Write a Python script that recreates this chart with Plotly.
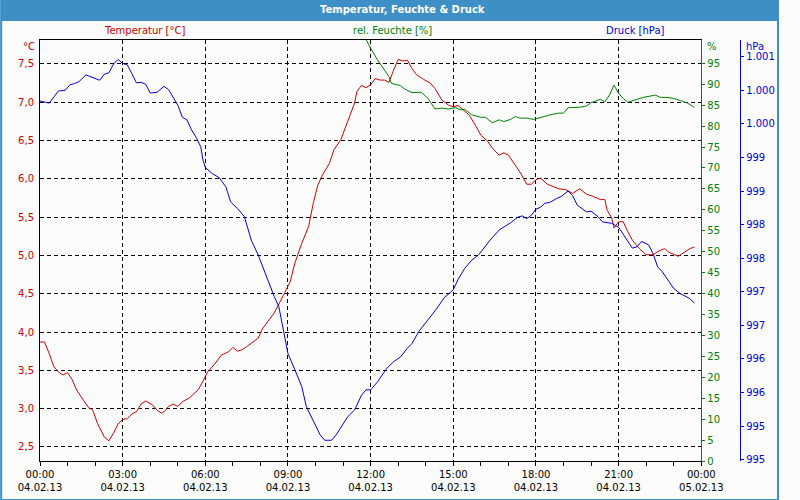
import plotly.graph_objects as go
from datetime import datetime, timedelta

# ---------------- data (minutes after 04.02.13 00:00) ----------------
temp_min = [0, 10, 20, 30, 40, 50, 60, 70, 80, 90,
            95, 105, 115, 125, 140, 150, 160, 170, 180, 190,
            200, 210, 220, 230, 245, 255, 265, 270, 280, 290,
            300, 310, 325, 335, 345, 355, 365, 380, 395, 410,
            420, 430, 440, 450, 465, 475, 485, 510, 530, 545,
            555, 570, 585, 595, 605, 615, 630, 640, 655, 670,
            685, 690, 700, 710, 720, 730, 740, 750, 760, 770,
            780, 790, 800, 810, 820, 835, 850, 860, 875, 890,
            900, 910, 925, 935, 950, 960, 975, 985, 1000, 1010,
            1020, 1035, 1045, 1060, 1070, 1080, 1090, 1105, 1130, 1145,
            1160, 1175, 1190, 1205, 1220, 1230, 1235, 1245, 1250, 1260,
            1270, 1280, 1290, 1305, 1320, 1335, 1345, 1360, 1370, 1390,
            1405, 1415, 1425]
temp_val = [3.87, 3.87, 3.72, 3.55, 3.48, 3.44, 3.47, 3.38, 3.24, 3.15,
            3.11, 3.02, 2.98, 2.81, 2.63, 2.58, 2.68, 2.80, 2.86, 2.87,
            2.93, 2.96, 3.06, 3.10, 3.05, 2.98, 2.94, 2.96, 3.03, 3.06,
            3.03, 3.09, 3.14, 3.19, 3.25, 3.36, 3.48, 3.58, 3.70, 3.74,
            3.80, 3.75, 3.77, 3.81, 3.87, 3.92, 4.05, 4.25, 4.48, 4.66,
            4.90, 5.16, 5.38, 5.68, 5.92, 6.05, 6.20, 6.38, 6.51, 6.75,
            6.99, 7.14, 7.22, 7.19, 7.23, 7.31, 7.29, 7.29, 7.26, 7.42,
            7.56, 7.54, 7.55, 7.44, 7.36, 7.30, 7.25, 7.18, 7.03, 6.96,
            6.94, 6.96, 6.88, 6.83, 6.68, 6.57, 6.49, 6.40, 6.31, 6.34,
            6.31, 6.18, 6.09, 5.93, 5.93, 5.99, 6.01, 5.93, 5.87, 5.86,
            5.81, 5.87, 5.80, 5.77, 5.73, 5.73, 5.59, 5.49, 5.36, 5.44,
            5.44, 5.31, 5.20, 5.09, 5.01, 5.01, 5.05, 5.09, 5.04, 4.99,
            5.05, 5.09, 5.11]

press_min = [0, 10, 20, 30, 40, 55, 65, 75, 85, 100,
             115, 130, 140, 150, 160, 170, 180, 190, 200, 210,
             220, 230, 240, 255, 260, 270, 280, 290, 300, 310,
             320, 330, 340, 350, 355, 360, 375, 390, 405, 415,
             430, 445, 450, 460, 475, 485, 500, 510, 520, 530,
             540, 555, 570, 580, 595, 610, 620, 635, 645, 660,
             670, 685, 700, 710, 720, 735, 755, 770, 785, 800,
             810, 825, 845, 865, 880, 900, 910, 925, 940, 955,
             970, 980, 1000, 1010, 1025, 1040, 1050, 1060, 1070, 1080,
             1090, 1100, 1110, 1125, 1135, 1150, 1160, 1170, 1180, 1190,
             1200, 1215, 1225, 1245, 1260, 1275, 1290, 1300, 1310, 1325,
             1335, 1345, 1355, 1370, 1380, 1395, 1405, 1415, 1425]
press_val = [1000.34, 1000.32, 1000.31, 1000.40, 1000.49, 1000.50, 1000.58, 1000.60, 1000.63, 1000.73,
             1000.69, 1000.65, 1000.74, 1000.76, 1000.89, 1000.96, 1000.90, 1000.88, 1000.75, 1000.61,
             1000.62, 1000.59, 1000.46, 1000.47, 1000.50, 1000.56, 1000.51, 1000.40, 1000.28, 1000.10,
             1000.06, 999.91, 999.80, 999.66, 999.46, 999.35, 999.26, 999.20, 999.06, 998.84,
             998.74, 998.62, 998.49, 998.27, 998.05, 997.87, 997.60, 997.43, 997.28, 996.93,
             996.58, 996.34, 996.09, 995.79, 995.57, 995.37, 995.29, 995.29, 995.37, 995.54,
             995.64, 995.74, 995.96, 996.04, 996.04, 996.16, 996.36, 996.46, 996.53, 996.66,
             996.73, 996.91, 997.08, 997.26, 997.41, 997.53, 997.68, 997.85, 997.97, 998.05,
             998.18, 998.27, 998.42, 998.46, 998.53, 998.61, 998.63, 998.59, 998.64, 998.73,
             998.76, 998.82, 998.83, 998.89, 998.92, 999.00, 998.93, 998.79, 998.74, 998.69,
             998.70, 998.62, 998.54, 998.52, 998.46, 998.30, 998.15, 998.17, 998.25, 998.20,
             998.07, 997.87, 997.80, 997.65, 997.55, 997.47, 997.44, 997.40, 997.33]

hum_min = [700, 710, 720, 735, 745, 760, 765, 785, 795, 810,
           830, 845, 860, 875, 890, 905, 915, 925, 940, 960,
           970, 985, 1000, 1010, 1025, 1035, 1045, 1060, 1075, 1085,
           1100, 1115, 1130, 1140, 1150, 1165, 1175, 1190, 1200, 1220,
           1230, 1240, 1250, 1260, 1270, 1280, 1295, 1315, 1340, 1350,
           1370, 1380, 1395, 1410, 1425]
hum_val = [102.8, 100.6, 98.6, 95.8, 94.2, 91.8, 90.2, 89.7, 88.8, 88.0,
           88.1, 86.6, 84.1, 84.3, 84.1, 84.4, 83.9, 84.0, 82.7, 82.1,
           82.1, 80.8, 81.5, 81.1, 81.6, 82.3, 81.9, 81.9, 81.6, 81.9,
           82.5, 82.8, 83.1, 83.1, 84.4, 84.5, 84.5, 84.8, 85.6, 86.4,
           85.8, 87.4, 89.8, 87.8, 86.6, 85.7, 86.2, 86.9, 87.4, 86.9,
           86.8, 86.6, 86.1, 85.5, 84.5]

hum_tickvals = [0, 5, 10, 15, 20, 25, 30, 35, 40, 45,
                50, 55, 60, 65, 70, 75, 80, 85, 90, 95]

press_tickvals = [995.0, 995.5, 996.0, 996.5, 997.0, 997.5, 998.0,
                  998.5, 999.0, 999.5, 1000.0, 1000.5, 1001.0]
press_ticktext = ["995", "995", "996", "996", "997", "997", "998",
                  "998", "999", "999", "1.000", "1.000", "1.001"]

t0 = datetime(2013, 2, 4)


def to_time(mins):
    return [t0 + timedelta(minutes=m) for m in mins]


RED = "#cc0000"
GREEN = "#008000"
BLUE = "#0000dd"
FRAME = "#3d8fc6"
FONT = "DejaVu Sans"

fig = go.Figure()
fig.add_trace(go.Scatter(x=to_time(temp_min), y=temp_val, mode="lines",
                         line=dict(color="#d40000", width=1), yaxis="y"))
fig.add_trace(go.Scatter(x=to_time(hum_min), y=hum_val, mode="lines",
                         line=dict(color="#008000", width=1), yaxis="y2"))
fig.add_trace(go.Scatter(x=to_time(press_min), y=press_val, mode="lines",
                         line=dict(color="#0000e0", width=1), yaxis="y3"))

# layout geometry: plot area x 40..721, y 40..461 ; paper x 40..800
W_PAPER = 760.0
H_PLOT = 421.0


def px(X):
    return (X - 40) / W_PAPER


def py(Y):
    return (461 - Y) / H_PLOT


fig.update_layout(
    width=800, height=500,
    margin=dict(l=40, r=0, t=40, b=39, pad=0),
    paper_bgcolor="#fbfcfb",
    plot_bgcolor="#fbfcfb",
    separators=",.",
    showlegend=False,
    hovermode=False,
    font=dict(family=FONT, size=10, color="black"),
    xaxis=dict(
        domain=[0, 681 / W_PAPER],
        range=[t0, t0 + timedelta(hours=24)],
        tick0=t0, dtick=3 * 3600000,
        tickformat="%H:%M<br>%d.%m.%y",
        showgrid=True, gridcolor="black", gridwidth=1, griddash="4px,3px",
        showline=True, linecolor="black", linewidth=1, mirror=True,
        ticks="outside", ticklen=4, tickcolor="black",
        minor=dict(dtick=3600000, ticks="outside", ticklen=4, tickcolor="black", showgrid=False),
        tickfont=dict(family=FONT, size=10, color="black"),
        zeroline=False,
    ),
    yaxis=dict(
        range=[2.317, 7.813], tick0=2.5, dtick=0.5, tickformat=".1f",
        showgrid=True, gridcolor="black", gridwidth=1, griddash="4px,3px",
        showline=True, linecolor="black", linewidth=1,
        ticks="outside", ticklen=3, tickcolor="rgba(0,0,0,0)",
        tickfont=dict(family=FONT, size=10, color=RED),
        zeroline=False,
    ),
    yaxis2=dict(
        overlaying="y", side="right", anchor="x",
        range=[0, 100.57], tickmode="array", tickvals=hum_tickvals,
        showgrid=False, zeroline=False,
        showline=True, linecolor=GREEN, linewidth=1,
        ticks="outside", ticklen=3, tickcolor=GREEN,
        tickfont=dict(family=FONT, size=10, color=GREEN),
    ),
    yaxis3=dict(
        overlaying="y", side="right", anchor="free", position=px(761),
        range=[994.981, 1001.249],
        tickmode="array", tickvals=press_tickvals, ticktext=press_ticktext,
        showgrid=False, zeroline=False,
        showline=True, linecolor=BLUE, linewidth=1,
        ticks="outside", ticklen=3, tickcolor=BLUE,
        tickfont=dict(family=FONT, size=10, color=BLUE),
    ),
)

shapes = [
    dict(type="rect", xref="paper", yref="paper", layer="below",
         x0=px(0), x1=px(800), y0=py(21), y1=py(0),
         fillcolor=FRAME, line=dict(width=0)),
    dict(type="rect", xref="paper", yref="paper", layer="above",
         x0=px(0), x1=px(800), y0=py(500), y1=py(0),
         fillcolor="rgba(0,0,0,0)", line=dict(color=FRAME, width=2)),
]
fig.update_layout(shapes=shapes)

annotations = [
    dict(text="<b>Temperatur, Feuchte &amp; Druck</b>", x=px(413), y=py(10),
         font=dict(family=FONT, size=10, color="white")),
    dict(text="Temperatur [°C]", x=px(148), y=py(31), font=dict(family=FONT, size=10, color=RED)),
    dict(text="rel. Feuchte [%]", x=px(403), y=py(31), font=dict(family=FONT, size=10, color=GREEN)),
    dict(text="Druck [hPa]", x=px(653), y=py(31), font=dict(family=FONT, size=10, color=BLUE)),
    dict(text="°C", x=px(37), y=py(46), xanchor="right", font=dict(family=FONT, size=10, color=RED)),
    dict(text="%", x=px(725), y=py(46), xanchor="left", font=dict(family=FONT, size=10, color=GREEN)),
    dict(text="hPa", x=px(765), y=py(46), xanchor="left", font=dict(family=FONT, size=10, color=BLUE)),
]
for a in annotations:
    a.update(xref="paper", yref="paper", showarrow=False, yanchor="middle")
    a.setdefault("xanchor", "center")
fig.update_layout(annotations=annotations)

fig.write_html("out.html")
